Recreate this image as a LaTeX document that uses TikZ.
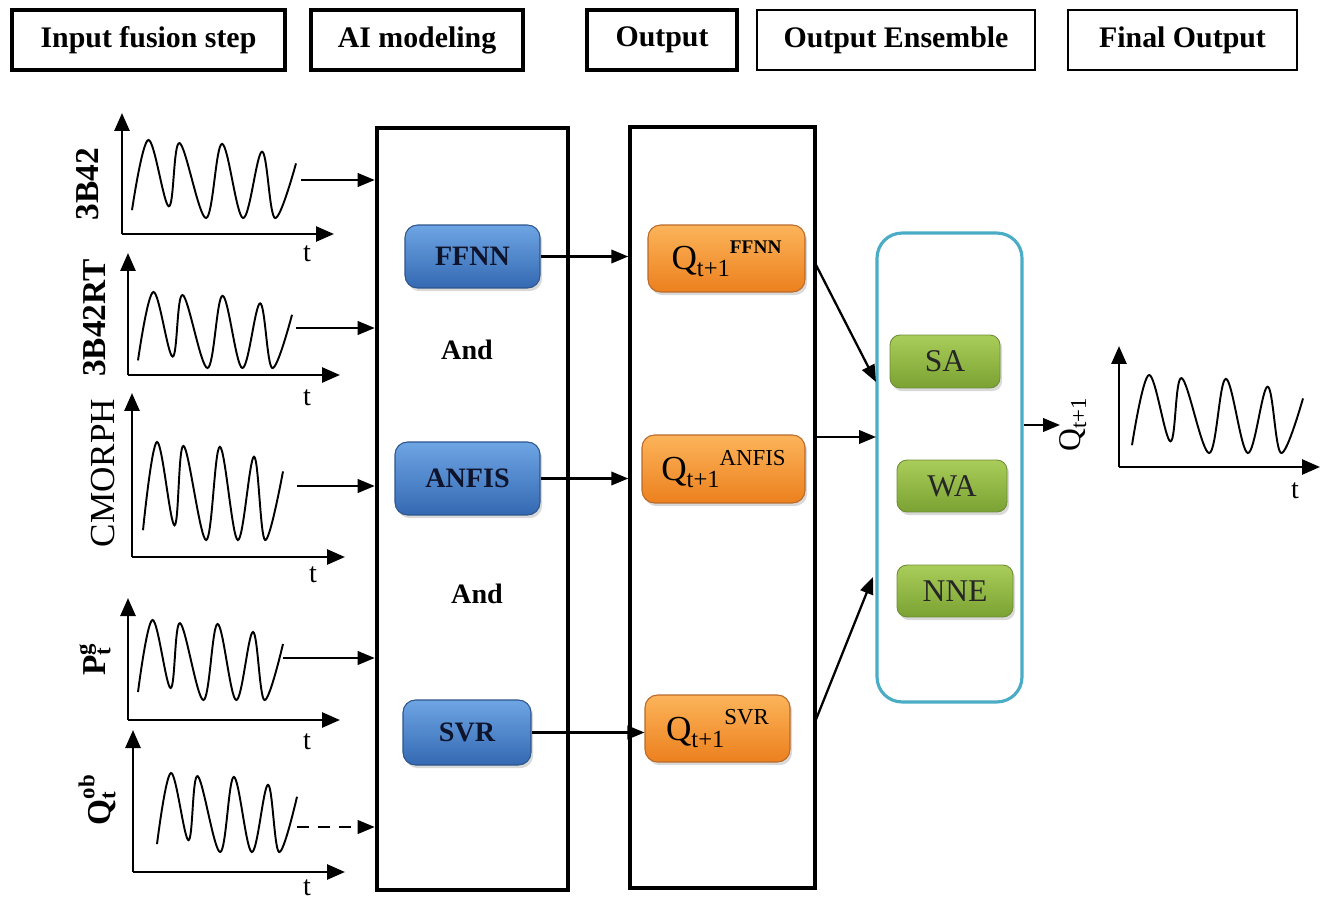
\documentclass[tikz,border=0pt]{standalone}
\usepackage{fontspec}
\setmainfont{Liberation Serif}
\usetikzlibrary{arrows.meta,shadows}
\newcommand\myfs[1]{\fontsize{#1}{#1}\selectfont}
\definecolor{bluetop}{RGB}{110,165,228}
\definecolor{bluebot}{RGB}{52,105,178}
\definecolor{blueline}{RGB}{45,85,140}
\definecolor{orgtop}{RGB}{252,180,90}
\definecolor{orgbot}{RGB}{236,128,30}
\definecolor{orgline}{RGB}{185,105,40}
\definecolor{grntop}{RGB}{170,205,90}
\definecolor{grnbot}{RGB}{122,162,50}
\definecolor{grnline}{RGB}{110,140,55}
\definecolor{teal}{RGB}{75,172,198}
\definecolor{navytext}{RGB}{15,20,45}
\begin{document}
\begin{tikzpicture}[x=0.02cm,y=-0.02cm,
  hdr/.style={draw, line width=2.4pt, minimum height=1.2cm, inner sep=0pt, font=\bfseries\myfs{17}},
  hdrthin/.style={hdr, line width=1.1pt},
  bigbox/.style={draw, inner sep=0pt},
  model/.style={draw=blueline, line width=0.6pt, rounded corners=0.25cm, top color=bluetop, bottom color=bluebot,
     text=navytext, font=\bfseries\myfs{16}, inner sep=0pt, drop shadow={shadow xshift=1.2pt, shadow yshift=-1.8pt, opacity=0.3}},
  qbox/.style={draw=orgline, line width=0.6pt, rounded corners=0.25cm, top color=orgtop, bottom color=orgbot,
     text=black, font=\myfs{20}, inner sep=0pt, drop shadow={shadow xshift=1.2pt, shadow yshift=-1.8pt, opacity=0.3}},
  ens/.style={draw=grnline, line width=0.5pt, rounded corners=0.2cm, top color=grntop, bottom color=grnbot,
     text=black!85, font=\myfs{18}, inner sep=0pt, drop shadow={shadow xshift=1.2pt, shadow yshift=-1.8pt, opacity=0.3}},
  axis/.style={line width=1.5pt, -{Triangle[length=0.36cm,width=0.3cm]}},
  arr/.style={line width=1.3pt, -{Triangle[length=0.34cm,width=0.27cm]}},
  wave/.style={line width=1.1pt},
  tlab/.style={font=\myfs{16}, inner sep=0pt},
  sidelab/.style={rotate=90, inner sep=0pt, font=\bfseries\myfs{19}},
  andlab/.style={font=\bfseries\myfs{16}, inner sep=0pt}
]
\useasboundingbox (0,0) rectangle (1325,902);

% headers
\node[hdr, minimum width=5.46cm] (h1) at (148.5,40) {Input fusion step};
\node[hdr, minimum width=4.24cm] (h2) at (417,40) {AI modeling};
\node[hdr, minimum width=3.0cm] (h3) at (662,40) {Output};
\node[hdrthin, minimum width=5.56cm] (h4) at (896,40) {Output Ensemble};
\node[hdrthin, minimum width=4.58cm] (h5) at (1182.5,40) {Final Output};

% big boxes
\node[bigbox, line width=2.6pt, minimum width=3.82cm, minimum height=15.24cm] (box1) at (472.5,509) {};
\node[bigbox, line width=2pt, minimum width=3.7cm, minimum height=15.22cm] (box2) at (722.5,507.5) {};
\node[draw=teal, line width=1.8pt, rounded corners=0.5cm, minimum width=2.9cm, minimum height=9.38cm, inner sep=0pt] (ens) at (949.5,467.5) {};

% wave macro: x0, ytop, width, height
\newcommand\mywave[4]{%
  \begin{scope}[shift={(#1,#2)}, xscale=#3, yscale=#4]
    \draw[wave] plot[smooth, tension=0.6] coordinates {(0,0.9) (0.10,0) (0.225,0.85) (0.29,0.04) (0.451,1.0) (0.549,0.05) (0.677,1.0) (0.793,0.15) (0.872,1.0) (1.0,0.3)};
  \end{scope}}

% plot 1: 3B42
\coordinate (y1b) at (122,234); \coordinate (y1t) at (122,113); \coordinate (x1e) at (334,234);
\draw[axis] (y1b) -- (y1t);
\draw[axis] (y1b) -- (x1e);
\mywave{132}{140}{164}{78}
\node[tlab] (t1) at (307,254) {t};
\node[sidelab] (l1) at (88,184) {3B42};
\coordinate (s1) at (301,180);
\draw[arr] (s1) -- (s1 -| box1.west);

% plot 2: 3B42RT
\coordinate (y2b) at (128,375); \coordinate (y2t) at (128,253); \coordinate (x2e) at (340,375);
\draw[axis] (y2b) -- (y2t);
\draw[axis] (y2b) -- (x2e);
\mywave{138}{292}{154}{76}
\node[tlab] (t2) at (307,398) {t};
\node[sidelab] (l2) at (95,318) {3B42RT};
\coordinate (s2) at (296,328);
\draw[arr] (s2) -- (s2 -| box1.west);

% plot 3: CMORPH
\coordinate (y3b) at (132,557); \coordinate (y3t) at (132,393); \coordinate (x3e) at (345,557);
\draw[axis] (y3b) -- (y3t);
\draw[axis] (y3b) -- (x3e);
\mywave{143}{442}{140}{98}
\node[tlab] (t3) at (313,575) {t};
\node[sidelab, font=\myfs{20}] (l3) at (103,473) {CMORPH};
\coordinate (s3) at (297,486);
\draw[arr] (s3) -- (s3 -| box1.west);

% plot 4: P_t^g
\coordinate (y4b) at (128,720); \coordinate (y4t) at (128,598); \coordinate (x4e) at (340,720);
\draw[axis] (y4b) -- (y4t);
\draw[axis] (y4b) -- (x4e);
\mywave{138}{620}{145}{80}
\node[tlab] (t4) at (307,742) {t};
\node[sidelab] (l4) at (95,660) {P\rlap{\raisebox{-3pt}{\myfs{13}t}}\raisebox{8pt}{\myfs{13}g}};
\coordinate (s4) at (283,658);
\draw[arr] (s4) -- (s4 -| box1.west);

% plot 5: Q_t^ob
\coordinate (y5b) at (133,872); \coordinate (y5t) at (133,730); \coordinate (x5e) at (345,872);
\draw[axis] (y5b) -- (y5t);
\draw[axis] (y5b) -- (x5e);
\mywave{157}{773}{140}{79}
\node[tlab] (t5) at (307,888) {t};
\node[sidelab] (l5) at (97,800) {Q\rlap{\raisebox{-3pt}{\myfs{13}t}}\raisebox{9pt}{\myfs{13}ob}};
\coordinate (s5) at (297,827);
\draw[arr, dashed, dash pattern=on 7pt off 5pt] (s5) -- (s5 -| box1.west);

% model boxes
\node[model, minimum width=2.7cm, minimum height=1.26cm] (ffnn) at (472.5,256.5) {FFNN};
\node[model, minimum width=2.9cm, minimum height=1.46cm] (anfis) at (467.5,478.5) {ANFIS};
\node[model, minimum width=2.56cm, minimum height=1.3cm] (svr) at (467,732.5) {SVR};
\node[andlab] (and1) at (467,350) {And};
\node[andlab] (and2) at (477,594) {And};

% output boxes
\node[qbox, minimum width=3.14cm, minimum height=1.34cm] (qffnn) at (726.5,258.5)
  {Q\raisebox{-4pt}{\myfs{14}t+1}\raisebox{9pt}{\bfseries\myfs{11}FFNN}};
\node[qbox, minimum width=3.26cm, minimum height=1.36cm] (qanfis) at (723.5,469)
  {Q\raisebox{-4pt}{\myfs{14}t+1}\raisebox{9pt}{\myfs{13}ANFIS}};
\node[qbox, minimum width=2.9cm, minimum height=1.34cm] (qsvr) at (717.5,728.5)
  {Q\raisebox{-4pt}{\myfs{14}t+1}\raisebox{9pt}{\myfs{13}SVR}};

\draw[arr] (ffnn.east) -- (ffnn.east -| box2.west);
\draw[arr] (anfis.east) -- (anfis.east -| box2.west);
\draw[arr] (svr.east) -- (svr.east -| qsvr.west);

% ensemble boxes
\node[ens, minimum width=2.2cm, minimum height=1.06cm] (sa) at (945,361.5) {SA};
\node[ens, minimum width=2.2cm, minimum height=1.04cm] (wa) at (952,486) {WA};
\node[ens, minimum width=2.32cm, minimum height=1.04cm] (nne) at (955,591) {NNE};

\coordinate (e1) at (815,263); \coordinate (f1) at (876,382);
\coordinate (e2) at (815,437); \coordinate (f2) at (876,437);
\coordinate (e3) at (815,722); \coordinate (f3) at (873,577);
\draw[arr] (e1) -- (f1);
\draw[arr] (e2) -- (f2);
\draw[arr] (e3) -- (f3);

% final output
\coordinate (g1) at (1060,425);
\draw[arr] (ens.east |- g1) -- (g1);
\node[rotate=90, inner sep=0pt, font=\myfs{18}] (qout) at (1073,425) {Q\raisebox{-3pt}{\myfs{13}t+1}};
\coordinate (y6b) at (1119,467); \coordinate (y6t) at (1119,346); \coordinate (x6e) at (1320,467);
\draw[axis] (y6b) -- (y6t);
\draw[axis] (y6b) -- (x6e);
\mywave{1132}{375}{171}{78}
\node[tlab] (t6) at (1295,491) {t};
\end{tikzpicture}
\end{document}
